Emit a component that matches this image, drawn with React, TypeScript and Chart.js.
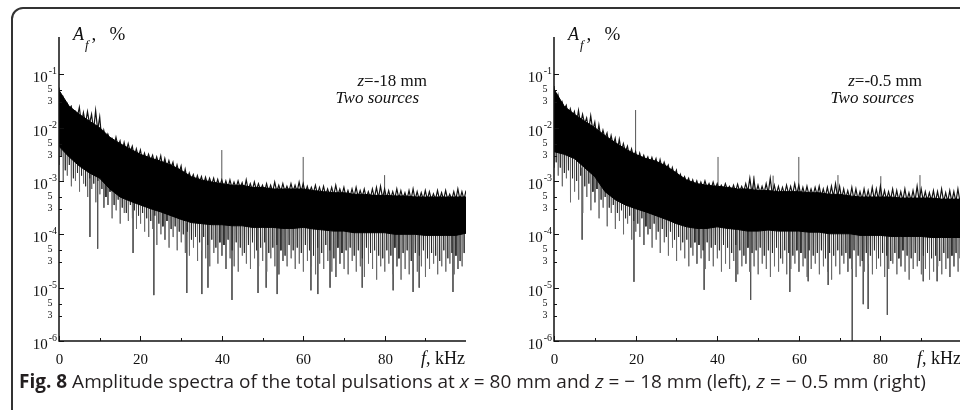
import React, { useEffect, useRef } from "react";
import { Chart, registerables } from "chart.js";
Chart.register(...registerables);

// ---------- data (amplitudes stored as log10 exponents) ----------
const FREQ_FINE = Array.from({ length: 101 }, (_, i) => i); // kHz grid, 1 kHz step
const FREQ_CORE = Array.from({ length: 41 }, (_, i) => i * 2.5); // kHz grid, 2.5 kHz step

const DECADES = [-6, -5, -4, -3, -2, -1];
const MINOR_MANTISSAS = [5, 3];
const X_MAJOR = [0, 20, 40, 60, 80];
const X_MINOR = [10, 30, 50, 70, 90];

// Left panel, z = -18 mm
const LEFT_CORE_TOP = [-1.30, -1.60, -1.75, -1.88, -2.00, -2.18, -2.30, -2.40, -2.50, -2.57, -2.63, -2.70, -2.80, -2.92, -2.98, -3.02, -3.05, -3.08, -3.08, -3.12, -3.12, -3.15, -3.15, -3.15, -3.15, -3.18, -3.20, -3.22, -3.22, -3.25, -3.25, -3.27, -3.27, -3.28, -3.28, -3.30, -3.30, -3.30, -3.30, -3.30, -3.30];
const LEFT_CORE_BOT = [-2.35, -2.55, -2.72, -2.85, -2.95, -3.15, -3.30, -3.38, -3.45, -3.52, -3.58, -3.65, -3.72, -3.78, -3.80, -3.82, -3.82, -3.84, -3.84, -3.87, -3.87, -3.87, -3.89, -3.89, -3.87, -3.90, -3.92, -3.94, -3.94, -3.97, -3.97, -3.97, -3.97, -4.00, -4.00, -4.00, -4.02, -4.02, -4.02, -4.02, -3.98];
const LEFT_HI = [-1.25, -1.45, -1.55, -1.60, -1.70, -1.62, -1.72, -1.70, -1.75, -1.68, -1.80, -2.05, -2.12, -2.20, -2.18, -2.25, -2.28, -2.30, -2.35, -2.40, -2.42, -2.48, -2.50, -2.52, -2.55, -2.53, -2.58, -2.62, -2.65, -2.70, -2.72, -2.78, -2.85, -2.88, -2.90, -2.92, -2.93, -2.95, -2.95, -2.97, -2.98, -3.00, -2.98, -3.02, -3.00, -3.03, -2.98, -3.05, -3.02, -3.05, -3.08, -3.05, -3.08, -3.02, -3.08, -3.05, -3.10, -3.05, -3.08, -3.02, -3.05, -3.10, -3.12, -3.08, -3.12, -3.10, -3.15, -3.12, -3.08, -3.15, -3.12, -3.18, -3.15, -3.12, -3.18, -3.15, -3.20, -3.15, -3.12, -3.10, -3.15, -3.18, -3.20, -3.15, -3.18, -3.22, -3.18, -3.15, -3.20, -3.22, -3.18, -3.20, -3.24, -3.18, -3.22, -3.18, -3.25, -3.20, -3.15, -3.20, -3.18];
const LEFT_LO = [-2.70, -3.00, -2.90, -3.10, -3.00, -3.20, -3.05, -3.30, -3.15, -3.40, -3.25, -3.50, -3.45, -3.70, -3.55, -3.80, -3.60, -3.75, -3.70, -3.90, -3.80, -3.95, -4.05, -3.90, -4.20, -4.00, -4.10, -4.25, -4.05, -4.30, -4.15, -4.35, -4.40, -4.25, -4.50, -4.30, -4.45, -4.60, -4.35, -4.55, -4.40, -4.65, -4.45, -4.60, -4.70, -4.40, -4.55, -4.65, -4.45, -4.60, -4.50, -4.70, -4.45, -4.60, -4.75, -4.50, -4.60, -4.45, -4.65, -4.55, -4.70, -4.50, -4.60, -4.75, -4.55, -4.65, -4.50, -4.70, -4.80, -4.55, -4.65, -4.75, -4.50, -4.70, -4.60, -4.80, -4.55, -4.65, -4.85, -4.60, -4.70, -4.55, -4.75, -4.60, -4.85, -4.65, -4.75, -4.55, -4.70, -4.60, -4.80, -4.65, -4.55, -4.75, -4.60, -4.70, -4.55, -4.75, -4.65, -4.60, -4.50];
const LEFT_LO2 = [-2.55, -2.80, -2.70, -2.95, -2.85, -2.90, -3.10, -2.95, -3.05, -3.00, -3.15, -3.30, -3.20, -3.45, -3.35, -3.50, -3.60, -3.45, -3.55, -3.65, -3.60, -3.70, -3.75, -3.65, -3.80, -3.85, -3.75, -3.90, -3.85, -3.95, -4.00, -3.95, -4.10, -4.05, -4.15, -4.05, -4.20, -4.10, -4.25, -4.15, -4.20, -4.10, -4.30, -4.15, -4.25, -4.35, -4.20, -4.15, -4.30, -4.25, -4.15, -4.35, -4.25, -4.20, -4.30, -4.40, -4.20, -4.30, -4.25, -4.35, -4.20, -4.30, -4.40, -4.25, -4.35, -4.20, -4.30, -4.45, -4.25, -4.35, -4.30, -4.25, -4.40, -4.30, -4.45, -4.25, -4.35, -4.30, -4.40, -4.45, -4.30, -4.40, -4.25, -4.45, -4.35, -4.30, -4.50, -4.35, -4.40, -4.30, -4.45, -4.35, -4.40, -4.50, -4.30, -4.45, -4.35, -4.40, -4.50, -4.35, -4.40];
const LEFT_SPIKE_DOWN_F = [7.6, 9.5, 18.2, 23.3, 31.4, 35.1, 36.6, 42.5, 48.9, 50.9, 53.6, 61.9, 63.6, 66.6, 74.5, 82.1, 87.0, 88.5, 96.8];
const LEFT_SPIKE_DOWN_V = [-4.05, -4.27, -4.35, -5.14, -5.10, -5.12, -5.00, -5.23, -5.10, -5.00, -5.12, -5.05, -5.12, -5.00, -5.00, -5.05, -5.08, -5.00, -5.08];
const LEFT_SPIKE_UP_F = [40.0, 60.0, 80.0];
const LEFT_SPIKE_UP_V = [-2.42, -2.55, -2.89];

// Right panel, z = -0.5 mm
const RIGHT_CORE_TOP = [-1.28, -1.60, -1.75, -1.88, -2.00, -2.15, -2.28, -2.40, -2.50, -2.58, -2.63, -2.72, -2.85, -2.98, -3.05, -3.08, -3.10, -3.12, -3.15, -3.15, -3.18, -3.18, -3.20, -3.20, -3.20, -3.22, -3.22, -3.25, -3.25, -3.28, -3.30, -3.30, -3.30, -3.30, -3.32, -3.32, -3.32, -3.32, -3.34, -3.34, -3.34];
const RIGHT_CORE_BOT = [-2.45, -2.50, -2.58, -2.75, -2.92, -3.20, -3.35, -3.45, -3.52, -3.58, -3.65, -3.72, -3.80, -3.86, -3.89, -3.89, -3.86, -3.89, -3.91, -3.94, -3.94, -3.92, -3.94, -3.94, -3.94, -3.96, -3.96, -3.99, -3.99, -3.99, -4.02, -4.02, -4.02, -4.04, -4.04, -4.04, -4.04, -4.06, -4.06, -4.06, -4.06];
const RIGHT_HI = [-1.22, -1.40, -1.52, -1.58, -1.65, -1.70, -1.68, -1.75, -1.82, -1.78, -1.90, -1.95, -2.05, -2.10, -2.15, -2.20, -2.22, -2.30, -2.35, -2.40, -2.45, -2.48, -2.52, -2.55, -2.56, -2.58, -2.60, -2.65, -2.70, -2.75, -2.80, -2.88, -2.92, -2.95, -2.98, -3.00, -3.02, -3.00, -3.05, -3.02, -3.05, -3.08, -3.05, -3.10, -3.08, -3.06, -3.10, -3.05, -2.95, -2.98, -3.08, -3.10, -3.05, -2.95, -3.08, -3.10, -3.12, -3.08, -3.10, -3.05, -3.08, -3.12, -3.10, -3.15, -3.12, -3.10, -3.15, -3.12, -3.10, -3.05, -3.10, -3.15, -3.18, -3.12, -3.15, -3.20, -3.15, -3.18, -3.12, -3.15, -3.10, -3.18, -3.20, -3.15, -3.18, -3.20, -3.15, -3.22, -3.18, -3.10, -3.15, -3.20, -3.22, -3.18, -3.20, -3.15, -3.22, -3.18, -3.20, -3.15, -3.18];
const RIGHT_LO = [-2.75, -2.90, -3.10, -2.95, -3.40, -3.20, -3.35, -3.60, -3.30, -3.55, -3.40, -3.70, -3.50, -3.85, -3.60, -3.90, -3.75, -4.00, -3.80, -4.10, -3.95, -4.05, -4.20, -4.00, -4.25, -4.10, -4.35, -4.15, -4.40, -4.25, -4.50, -4.30, -4.45, -4.60, -4.40, -4.55, -4.45, -4.65, -4.50, -4.60, -4.45, -4.70, -4.55, -4.65, -4.50, -4.75, -4.60, -4.55, -4.70, -4.60, -4.75, -4.55, -4.65, -4.80, -4.60, -4.70, -4.55, -4.75, -4.65, -4.55, -4.70, -4.60, -4.80, -4.65, -4.55, -4.75, -4.60, -4.70, -4.85, -4.60, -4.75, -4.55, -4.70, -4.65, -4.80, -4.60, -4.70, -4.55, -4.75, -4.65, -4.60, -4.80, -4.65, -4.55, -4.75, -4.60, -4.70, -4.85, -4.65, -4.60, -4.75, -4.65, -4.85, -4.70, -4.60, -4.75, -4.65, -4.80, -4.60, -4.70, -4.65];
const RIGHT_LO2 = [-2.65, -2.75, -2.85, -2.80, -2.95, -3.00, -2.90, -3.10, -3.05, -3.20, -3.15, -3.35, -3.30, -3.50, -3.45, -3.60, -3.55, -3.70, -3.65, -3.75, -3.80, -3.70, -3.85, -3.90, -3.80, -3.95, -3.90, -4.05, -3.95, -4.10, -4.05, -4.15, -4.10, -4.25, -4.15, -4.20, -4.30, -4.15, -4.25, -4.20, -4.30, -4.20, -4.25, -4.35, -4.20, -4.30, -4.40, -4.25, -4.35, -4.30, -4.25, -4.40, -4.30, -4.35, -4.25, -4.45, -4.30, -4.35, -4.40, -4.30, -4.35, -4.45, -4.30, -4.40, -4.35, -4.30, -4.45, -4.35, -4.40, -4.30, -4.40, -4.35, -4.45, -4.30, -4.40, -4.50, -4.35, -4.40, -4.30, -4.45, -4.35, -4.40, -4.50, -4.35, -4.45, -4.30, -4.40, -4.45, -4.35, -4.50, -4.40, -4.35, -4.45, -4.40, -4.50, -4.35, -4.45, -4.40, -4.35, -4.45, -4.40];
const RIGHT_SPIKE_DOWN_F = [6.9, 19.6, 36.8, 44.6, 48.2, 57.8, 62.3, 67.2, 73.1, 75.8, 77.0, 81.7, 90.5, 93.9];
const RIGHT_SPIKE_DOWN_V = [-4.10, -4.89, -5.04, -4.89, -5.23, -5.08, -4.88, -4.95, -6.00, -5.31, -5.40, -5.51, -4.88, -4.88];
const RIGHT_SPIKE_UP_F = [20.0, 40.2, 49.0, 53.7, 60.0, 69.6, 80.1, 89.7];
const RIGHT_SPIKE_UP_V = [-1.67, -2.55, -2.90, -2.90, -2.55, -2.89, -2.91, -2.89];

// ---------- rendering ----------
const SERIF = "'Liberation Serif', 'Times New Roman', serif";
const Y_MIN = 1e-6;
const Y_MAX = 0.5;

type Panel = {
  coreTop: number[]; coreBot: number[]; hi: number[]; lo: number[]; lo2: number[];
  downF: number[]; downV: number[]; upF: number[]; upV: number[];
  zText: string;
};

const LEFT: Panel = {
  coreTop: LEFT_CORE_TOP, coreBot: LEFT_CORE_BOT, hi: LEFT_HI, lo: LEFT_LO, lo2: LEFT_LO2,
  downF: LEFT_SPIKE_DOWN_F, downV: LEFT_SPIKE_DOWN_V, upF: LEFT_SPIKE_UP_F, upV: LEFT_SPIKE_UP_V,
  zText: "=-18 mm",
};
const RIGHT: Panel = {
  coreTop: RIGHT_CORE_TOP, coreBot: RIGHT_CORE_BOT, hi: RIGHT_HI, lo: RIGHT_LO, lo2: RIGHT_LO2,
  downF: RIGHT_SPIKE_DOWN_F, downV: RIGHT_SPIKE_DOWN_V, upF: RIGHT_SPIKE_UP_F, upV: RIGHT_SPIKE_UP_V,
  zText: "=-0.5 mm",
};

function buildDatasets(p: Panel) {
  const pw = (e: number) => Math.pow(10, e);
  const n = FREQ_CORE.length - 1;
  // value just inside the black band at frequency f (looked up from the neighbouring core points)
  const innerTop = (f: number) => Math.min(p.coreTop[Math.min(n, Math.floor(f / 2.5))], p.coreTop[Math.min(n, Math.ceil(f / 2.5))]) - 0.05;
  const innerBot = (f: number) => Math.max(p.coreBot[Math.min(n, Math.floor(f / 2.5))], p.coreBot[Math.min(n, Math.ceil(f / 2.5))]) + 0.06;
  const coreLo = FREQ_CORE.map((f, i) => ({ x: f, y: pw(p.coreBot[i]) }));
  const coreHi = FREQ_CORE.map((f, i) => ({ x: f, y: pw(p.coreTop[i]) }));
  const upper: any[] = [];
  const lowerLong: any[] = [];
  const lowerShort: any[] = [];
  FREQ_FINE.forEach((f, i) => {
    upper.push({ x: f, y: pw(p.hi[i]) });
    if (i < FREQ_FINE.length - 1) {
      upper.push({ x: f + 0.5, y: pw(innerTop(f + 0.5)) });
      // near-vertical strokes hanging below the band: deep one at f, shallower one at f + 0.5
      lowerLong.push({ x: f, y: pw(innerBot(f)) });
      lowerLong.push({ x: f + 0.03, y: pw(p.lo[i]) });
      lowerLong.push({ x: f + 0.06, y: pw(innerBot(f + 0.06)) });
      lowerShort.push({ x: f + 0.5, y: pw(innerBot(f + 0.5)) });
      lowerShort.push({ x: f + 0.53, y: pw(p.lo2[i]) });
      lowerShort.push({ x: f + 0.56, y: pw(innerBot(f + 0.56)) });
    }
  });
  const spikes: any[] = [];
  const idx = (f: number) => Math.min(n, Math.round(f / 2.5));
  p.downF.forEach((f, i) => {
    spikes.push({ x: f, y: pw(p.coreBot[idx(f)]) });
    spikes.push({ x: f, y: pw(p.downV[i]) });
    spikes.push({ x: f, y: null });
  });
  p.upF.forEach((f, i) => {
    spikes.push({ x: f, y: pw(p.coreTop[idx(f)]) });
    spikes.push({ x: f, y: pw(p.upV[i]) });
    spikes.push({ x: f, y: null });
  });
  return [
    { data: coreLo, borderColor: "#000", borderWidth: 1, fill: false, order: 0, pointRadius: 0 },
    { data: coreHi, borderColor: "#000", borderWidth: 1, backgroundColor: "#000", fill: "-1", order: 0, pointRadius: 0 },
    { data: upper, borderColor: "#111", borderWidth: 1.2, fill: false, order: 1, pointRadius: 0 },
    { data: lowerShort, borderColor: "#2a2a2a", borderWidth: 1, fill: false, order: 1, pointRadius: 0 },
    { data: lowerLong, borderColor: "#6a6a6a", borderWidth: 1, fill: false, order: 2, pointRadius: 0 },
    { data: spikes, borderColor: "#555", borderWidth: 1, fill: false, order: 3, pointRadius: 0, spanGaps: false },
  ];
}

function decorPlugin(zText: string) {
  return {
    id: "decor",
    afterDraw(chart: any) {
      const ctx: CanvasRenderingContext2D = chart.ctx;
      const xs = chart.scales.x;
      const ys = chart.scales.y;
      const { left, right, top, bottom } = chart.chartArea;
      ctx.save();
      ctx.strokeStyle = "#111";
      ctx.fillStyle = "#111";
      ctx.lineWidth = 1.5;
      ctx.beginPath();
      ctx.moveTo(left, top);
      ctx.lineTo(left, bottom);
      ctx.lineTo(right, bottom);
      ctx.stroke();

      // y ticks + labels
      ctx.lineWidth = 1;
      DECADES.forEach((d) => {
        const y = Math.round(ys.getPixelForValue(Math.pow(10, d))) + 0.5;
        ctx.beginPath();
        ctx.moveTo(left, y);
        ctx.lineTo(left + 5, y);
        ctx.stroke();
        ctx.textAlign = "right";
        ctx.textBaseline = "alphabetic";
        ctx.font = `10px ${SERIF}`;
        const sup = String(d);
        const supW = ctx.measureText(sup).width;
        ctx.fillText(sup, left - 2, y - 1);
        ctx.font = `15px ${SERIF}`;
        ctx.fillText("10", left - 3 - supW, y + 7);
        if (d < -1) {
          MINOR_MANTISSAS.forEach((m) => {
            const yy = Math.round(ys.getPixelForValue(m * Math.pow(10, d))) + 0.5;
            ctx.beginPath();
            ctx.moveTo(left, yy);
            ctx.lineTo(left + 3, yy);
            ctx.stroke();
            ctx.font = `10px ${SERIF}`;
            ctx.textAlign = "center";
            ctx.fillText(String(m), left - 9, yy + 1.5);
          });
        }
      });

      // x ticks + labels
      X_MAJOR.forEach((v) => {
        const x = Math.round(xs.getPixelForValue(v)) + 0.5;
        ctx.beginPath();
        ctx.moveTo(x, bottom);
        ctx.lineTo(x, bottom - 5);
        ctx.stroke();
        ctx.font = `15px ${SERIF}`;
        ctx.textAlign = "center";
        ctx.fillText(String(v), x, bottom + 23);
      });
      X_MINOR.forEach((v) => {
        const x = Math.round(xs.getPixelForValue(v)) + 0.5;
        ctx.beginPath();
        ctx.moveTo(x, bottom);
        ctx.lineTo(x, bottom - 3);
        ctx.stroke();
      });

      // x-axis title "f, kHz"
      ctx.textAlign = "left";
      ctx.font = `18px ${SERIF}`;
      const restW = ctx.measureText(", kHz").width;
      ctx.font = `italic 18px ${SERIF}`;
      const fW = ctx.measureText("f").width;
      const fx = right - 1 - restW - fW;
      ctx.fillText("f", fx, bottom + 23);
      ctx.font = `18px ${SERIF}`;
      ctx.fillText(", kHz", fx + fW, bottom + 23);

      // y-axis title "A_f, %"
      const ax = left + 14;
      ctx.font = `italic 18px ${SERIF}`;
      ctx.fillText("A", ax, 40);
      const aW = ctx.measureText("A").width;
      ctx.font = `italic 13px ${SERIF}`;
      ctx.fillText("f", ax + aW + 1, 49);
      const sW = ctx.measureText("f").width;
      ctx.font = `19px ${SERIF}`;
      const cx = ax + aW + sW + 4;
      ctx.fillText(",", cx, 40);
      ctx.fillText("%", cx + 18, 40);

      // z label
      ctx.font = `17px ${SERIF}`;
      const zRestW = ctx.measureText(zText).width;
      ctx.font = `italic 17px ${SERIF}`;
      const zW = ctx.measureText("z").width;
      const zx = left + 368 - zRestW - zW;
      ctx.fillText("z", zx, 86);
      ctx.font = `17px ${SERIF}`;
      ctx.fillText(zText, zx + zW, 86);

      ctx.font = `italic 17px ${SERIF}`;
      ctx.textAlign = "right";
      ctx.fillText("Two sources", left + 360, 103);
      ctx.restore();
    },
  };
}

function SpectrumPanel({ panel, left, width, padLeft, padRight }: { panel: Panel; left: number; width: number; padLeft: number; padRight: number }) {
  const ref = useRef<HTMLCanvasElement | null>(null);
  useEffect(() => {
    if (!ref.current) return;
    const chart = new Chart(ref.current, {
      type: "line",
      data: { datasets: buildDatasets(panel) as any },
      options: {
        animation: false,
        responsive: false,
        maintainAspectRatio: false,
        devicePixelRatio: 1,
        layout: { padding: { left: padLeft, right: padRight, top: 37, bottom: 69 } },
        plugins: { legend: { display: false }, tooltip: { enabled: false } },
        elements: { point: { radius: 0 }, line: { tension: 0 } },
        scales: {
          x: { type: "linear", min: 0, max: 100, display: false },
          y: { type: "logarithmic", min: Y_MIN, max: Y_MAX, display: false },
        },
      },
      plugins: [decorPlugin(panel.zText)],
    } as any);
    return () => chart.destroy();
  }, []);
  return (
    <canvas
      ref={ref}
      width={width}
      height={410}
      style={{ position: "absolute", left, top: 0, width, height: 410 }}
    />
  );
}

export default function App() {
  return (
    <div style={{ position: "fixed", left: 0, top: 0, width: 960, height: 410, overflow: "hidden", background: "#fff" }}>
      <div
        style={{
          position: "absolute", left: 11, top: 7, width: 1000, height: 430,
          border: "2px solid #333", borderRadius: 12, boxSizing: "border-box",
        }}
      />
      <SpectrumPanel panel={LEFT} left={0} width={480} padLeft={59} padRight={14} />
      <SpectrumPanel panel={RIGHT} left={480} width={490} padLeft={74} padRight={8} />
      <div
        style={{
          position: "absolute", left: 19, top: 368, fontFamily: "'Open Sans', sans-serif",
          fontSize: 19, whiteSpace: "nowrap", color: "#231f20",
        }}
      >
        <b>Fig. 8</b> Amplitude spectra of the total pulsations at <i>x</i> = 80 mm and <i>z</i> = − 18 mm (left), <i>z</i> = − 0.5 mm (right)
      </div>
    </div>
  );
}
